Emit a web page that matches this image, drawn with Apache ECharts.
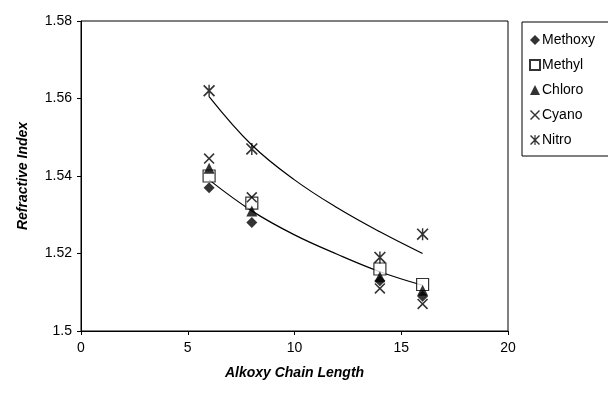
<!DOCTYPE html>
<html>
<head>
<meta charset="utf-8">
<script src="https://cdn.jsdelivr.net/npm/echarts@6/dist/echarts.min.js"></script>
<style>
  html, body { margin: 0; padding: 0; background: #fff; }
  #chart { width: 608px; height: 393px; }
</style>
</head>
<body>
<div id="chart"></div>
<script>
// chain lengths measured
const chainLength = [6, 8, 14, 16];

// refractive index per substituent
const methoxy = [1.537, 1.528, 1.513, 1.509];
const methyl = [1.540, 1.533, 1.516, 1.512];
const chloro = [1.542, 1.531, 1.514, 1.5105];
const cyano = [1.5445, 1.5345, 1.511, 1.507];
const nitro = [1.562, 1.547, 1.519, 1.525];

// trend lines
const trendX = [6, 8, 10, 12, 14, 16];
const nitroTrend = [1.5605, 1.5480, 1.5390, 1.5318, 1.5256, 1.5200];
const otherTrend = [1.5390, 1.5310, 1.5248, 1.5198, 1.5153, 1.5118];

const yTicks = [1.5, 1.52, 1.54, 1.56, 1.58];
const xTicks = [0, 5, 10, 15, 20];

const FONT = '"Liberation Sans", Arial, sans-serif';

// marker shapes
const crossPath = 'path://M0,1 L1,0 L10,9 L9,10 Z M9,0 L10,1 L1,10 L0,9 Z';
const starPath = 'path://M0,1 L1,0 L10,9 L9,10 Z M9,0 L10,1 L1,10 L0,9 Z M4.4,0 L5.6,0 L5.6,10 L4.4,10 Z';

const pairs = (xs, ys) => xs.map((x, i) => [x, ys[i]]);

const chart = echarts.init(document.getElementById('chart'));

const pointSeries = (name, data, symbol, size, style) => ({
  name: name,
  type: 'scatter',
  data: pairs(chainLength, data),
  symbol: symbol,
  symbolSize: size,
  itemStyle: style,
  z: 3
});

const trendSeries = (data) => ({
  type: 'line',
  data: pairs(trendX, data),
  smooth: 0.4,
  showSymbol: false,
  silent: true,
  lineStyle: { color: '#000', width: 1.2 },
  z: 2
});

const option = {
  backgroundColor: '#fff',
  animation: false,
  textStyle: { fontFamily: FONT, color: '#000' },
  grid: {
    left: 81,
    right: 100,
    top: 21,
    bottom: 62,
    show: true,
    borderColor: '#000',
    borderWidth: 1
  },
  legend: {
    orient: 'vertical',
    left: 522,
    top: 22,
    data: ['Methoxy', 'Methyl', 'Chloro', 'Cyano', 'Nitro'],
    itemWidth: 10,
    itemHeight: 10,
    itemGap: 11,
    padding: [11, 30, 9, 7],
    borderColor: '#000',
    borderWidth: 1,
    textStyle: { fontFamily: FONT, fontSize: 14, color: '#000', padding: [0, 0, 0, -3] }
  },
  xAxis: {
    type: 'value',
    min: 0,
    max: 20,
    interval: 5,
    name: 'Alkoxy Chain Length',
    nameLocation: 'middle',
    nameGap: 35,
    nameTextStyle: { fontFamily: FONT, fontSize: 14, fontWeight: 'bold', fontStyle: 'italic', color: '#000' },
    axisLine: { lineStyle: { color: '#000', width: 1 } },
    axisTick: { show: true, length: 4, lineStyle: { color: '#000' } },
    axisLabel: {
      fontFamily: FONT, fontSize: 14, color: '#000', margin: 10,
      formatter: v => xTicks.includes(v) ? String(v) : ''
    },
    splitLine: { show: false }
  },
  yAxis: {
    type: 'value',
    min: 1.5,
    max: 1.58,
    interval: 0.02,
    name: 'Refractive Index',
    nameLocation: 'middle',
    nameGap: 51,
    nameTextStyle: { fontFamily: FONT, fontSize: 14, fontWeight: 'bold', fontStyle: 'italic', color: '#000' },
    axisLine: { show: true, lineStyle: { color: '#000', width: 1 } },
    axisTick: { show: true, length: 4, lineStyle: { color: '#000' } },
    axisLabel: {
      fontFamily: FONT, fontSize: 14, color: '#000', margin: 9,
      formatter: v => {
        const t = yTicks.find(k => Math.abs(k - v) < 1e-6);
        return t === undefined ? '' : String(t);
      }
    },
    splitLine: { show: false }
  },
  series: [
    trendSeries(nitroTrend),
    trendSeries(otherTrend),
    pointSeries('Methoxy', methoxy, 'diamond', 11, { color: '#000' }),
    pointSeries('Methyl', methyl, 'rect', 12, { color: '#fff', borderColor: '#000', borderWidth: 1.2 }),
    pointSeries('Chloro', chloro, 'triangle', 11, { color: '#000' }),
    pointSeries('Cyano', cyano, crossPath, 11, { color: '#000' }),
    pointSeries('Nitro', nitro, starPath, 12, { color: '#000' })
  ]
};

chart.setOption(option);
</script>
</body>
</html>
